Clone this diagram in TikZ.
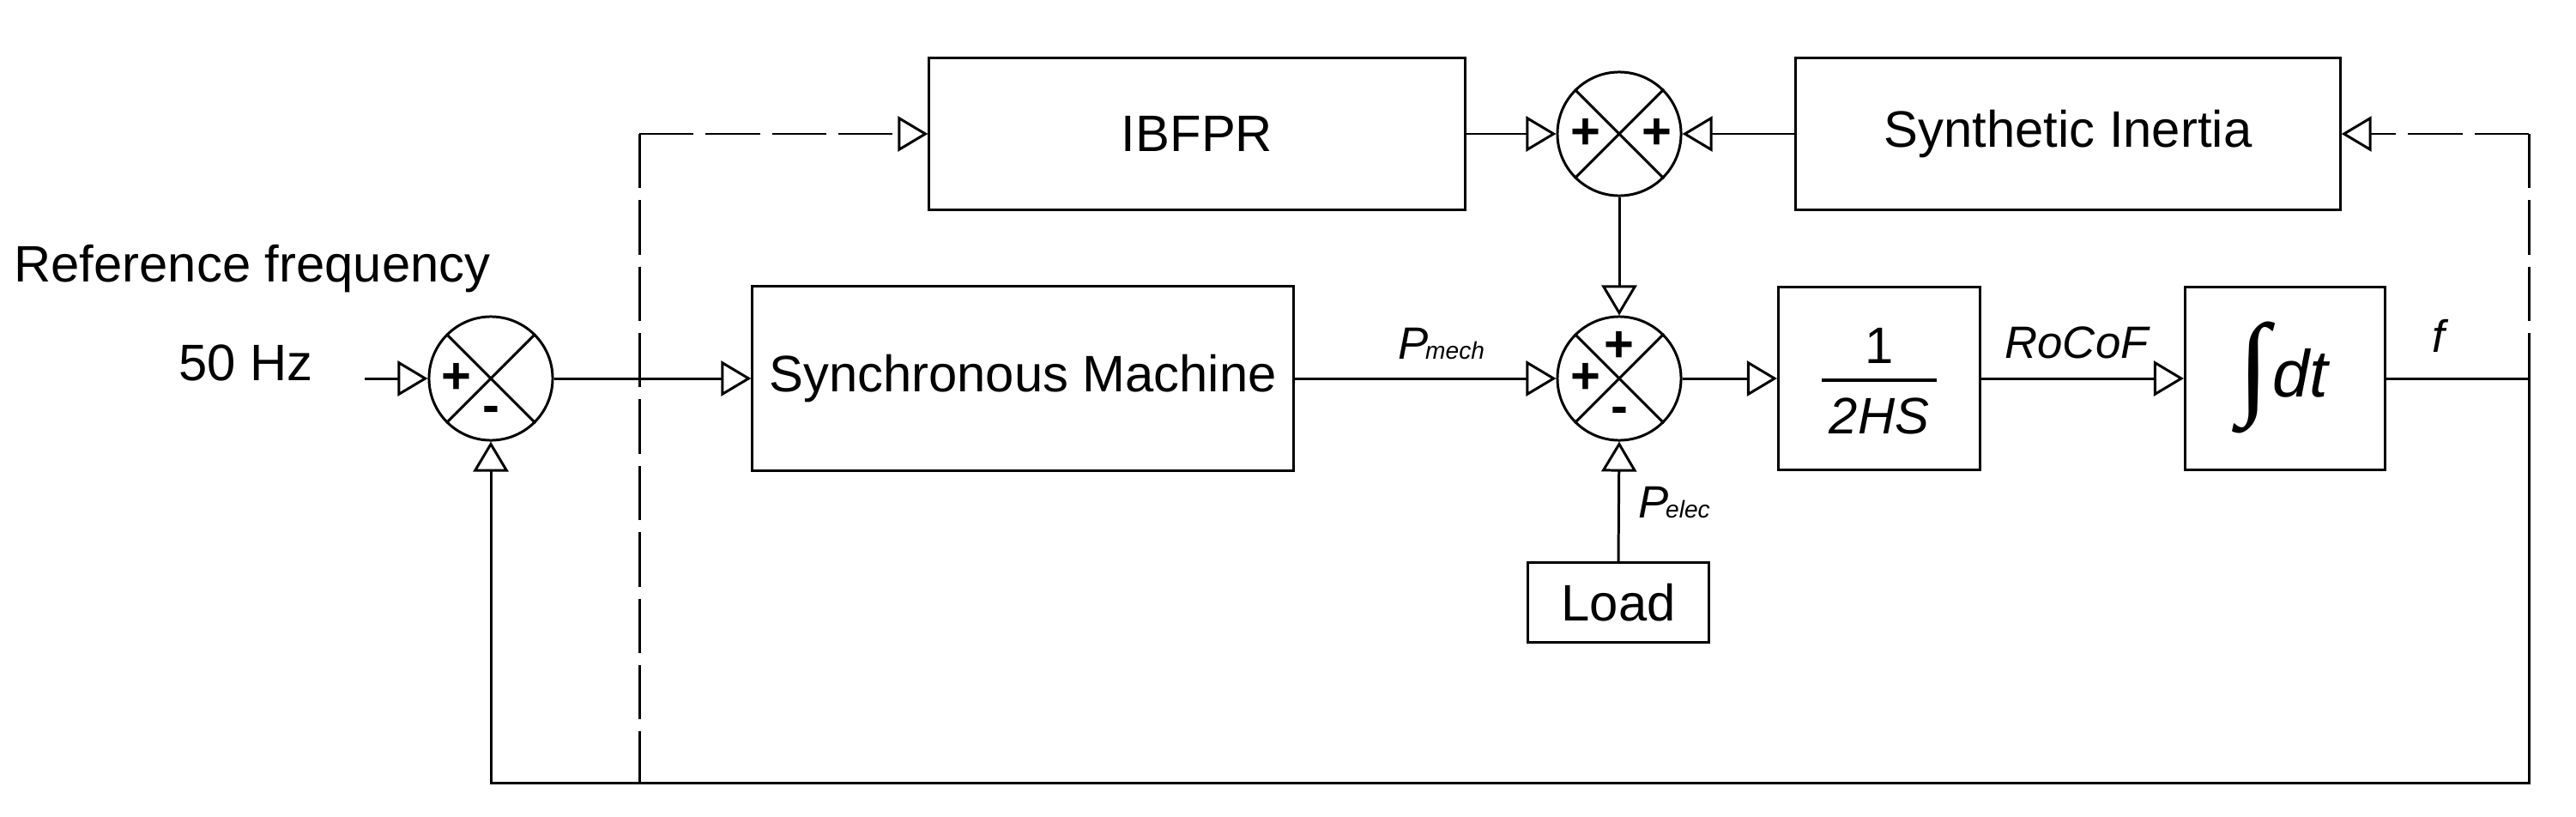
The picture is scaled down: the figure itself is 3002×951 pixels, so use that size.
\documentclass[tikz,border=0pt]{standalone}
\usepackage{fontspec}
\usepackage{graphicx}
\setmainfont{Liberation Sans}
\newfontfamily\intfont{Liberation Serif}
\usetikzlibrary{arrows.meta,calc}
\begin{document}
\begin{tikzpicture}[x=0.01cm,y=-0.01cm,
  line width=0.85pt,
  blk/.style={draw, rectangle, inner sep=0pt, font=\fontsize{17}{20}\selectfont},
  sumnode/.style={draw, circle, minimum size=1.44cm, inner sep=0pt},
  sgn/.style={inner sep=0pt, font=\fontsize{17}{20}\selectfont\bfseries},
  txt/.style={inner sep=0pt, anchor=base west, font=\fontsize{17}{20}\selectfont},
  lbl/.style={inner sep=0pt, anchor=base west, font=\fontsize{15}{18}\selectfont\itshape},
  sig/.style={-{Triangle[open,length=0.35cm,width=0.41cm]}},
  dsh/.style={dash pattern=on 18pt off 4pt},
]
\useasboundingbox (0,0) rectangle (3002,951);

% blocks
\node[blk, minimum width=6.24cm, minimum height=1.76cm] (ibfpr) at (1395,156) {IBFPR};
\node[blk, minimum width=6.34cm, minimum height=1.76cm] (si) at (2410,156) {Synthetic Inertia};
\node[blk, minimum width=6.30cm, minimum height=2.14cm] (sm) at (1192,441) {Synchronous Machine};
\node[blk, minimum width=2.35cm, minimum height=2.13cm] (hs) at (2190,441) {};
\node[blk, minimum width=2.33cm, minimum height=2.13cm] (intg) at (2663,441) {};
\node[blk, minimum width=2.10cm, minimum height=0.92cm] (load) at (1886,702) {Load};

% summing junctions
\node[sumnode] (s1) at (572,441) {};
\node[sumnode] (s2) at (1887,156) {};
\node[sumnode] (s3) at (1887,441) {};
\foreach \s in {s1,s2,s3} {
  \draw (\s.north east) -- (\s.south west);
  \draw (\s.north west) -- (\s.south east);
}
\node[sgn] (s1p) at (532,441) {+};
\node[sgn] (s1m) at (572,483) {-};
\node[sgn] (s2pa) at (1848,156) {+};
\node[sgn] (s2pb) at (1931,156) {+};
\node[sgn] (s3pa) at (1887,404) {+};
\node[sgn] (s3pb) at (1848,441) {+};
\node[sgn] (s3m) at (1887,484) {-};

% texts
\node[txt] (reftxt) at (15,328) {Reference frequency};
\node[txt] (hz) at (207,443) {50 Hz};
\node[lbl] (pmech) at (1628,418) {P\kern-1pt{\fontsize{8}{10}\selectfont mech}};
\node[lbl] (pelec) at (1908,603) {P\kern-1pt{\fontsize{8}{10}\selectfont elec}};
\node[lbl] (rocof) at (2335,417) {RoCoF};
\node[lbl] (flbl) at (2833,410) {f};

% fraction 1/2HS
\node[sgn, anchor=base, font=\fontsize{17}{20}\selectfont] (one) at (2190,423) {1};
\coordinate (barl) at (2123,443);
\coordinate (barr) at (2257,443);
\draw[line width=1.15pt] (barl) -- (barr);
\node[sgn, anchor=base, font=\fontsize{17}{20}\selectfont\itshape] (twohs) at (2190,505) {2HS};

% integral
\node[inner sep=0pt] (isym) at (2627,440) {\resizebox*{!}{1.3cm}{\intfont ∫}};
\node[inner sep=0pt, anchor=base west, font=\fontsize{22}{26}\selectfont\itshape] (dt) at (2647,462) {dt};

% connectors
\coordinate (in0) at (425,441);
\draw[sig] (in0) -- (s1.west);
\draw[sig] (s1.east) -- (sm.west);
\draw[sig] (sm.east) -- (s3.west);
\draw[sig] (s3.east) -- (hs.west);
\draw[sig] (hs.east) -- (intg.west);
\coordinate (fj) at (2947,441);
\coordinate (fb) at (2947,912);
\coordinate (lb) at (572,912);
\draw (intg.east) -- (fj);
\draw[sig] (fj) -- (fb) -- (lb) -- (s1.south);
\draw[sig] (s2.south) -- (s3.north);
\draw[sig] (load.north) -- (s3.south);
\draw[sig] (ibfpr.east) -- (s2.west);
\draw[sig] (si.west) -- (s2.east);

% dashed feedback paths
\coordinate (dl) at (745,156);
\coordinate (db) at (745,912);
\draw[dsh] (dl) -- (db);
\draw[dsh, sig] (dl) -- (ibfpr.west);
\coordinate (dr) at (2947,156);
\draw[dsh] (dr) -- (fj);
\draw[dsh, sig] (dr) -- (si.east);
\end{tikzpicture}
\end{document}
